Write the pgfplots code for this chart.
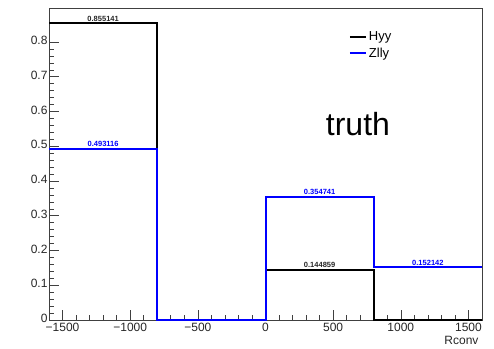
\documentclass[border=0pt]{standalone}
\usepackage{pgfplots}
\pgfplotsset{compat=1.18}
\usepackage{fontspec}
\setmainfont{Liberation Sans}
\definecolor{rootblue}{RGB}{0,0,255}
\begin{document}
\begin{tikzpicture}
\begin{axis}[
  scale only axis,
  width=433pt, height=312pt,
  xmin=-1600, xmax=1600,
  ymin=0, ymax=0.8979,
  axis line style={black!75, line width=0.6pt},
  tick align=inside,
  xtick pos=bottom, ytick pos=left,
  xtick={-1500,-1000,-500,0,500,1000,1500},
  xticklabels={−1500,−1000,−500,0,500,1000,1500},
  ytick={0,0.1,0.2,0.3,0.4,0.5,0.6,0.7,0.8},
  yticklabels={0,0.1,0.2,0.3,0.4,0.5,0.6,0.7,0.8},
  minor x tick num=4,
  minor y tick num=4,
  major tick length=10pt,
  minor tick length=5pt,
  tick style={black!75, line width=0.6pt},
  ticklabel style={font=\fontsize{12}{14}\selectfont, text=black!85},
  xticklabel style={yshift=0pt},
  yticklabel style={xshift=2pt, yshift=1.5pt},
  /pgf/number format/assume math mode=true,
  xlabel={Rconv},
  xlabel style={font=\fontsize{12}{14}\selectfont, text=black!85, anchor=north east, at={(rel axis cs:1,0)}, yshift=-13pt},
  legend style={draw=none, fill=none, at={(rel axis cs:0.69,0.935)}, anchor=north west,
    font=\fontsize{13}{15}\selectfont, row sep=2pt, inner sep=1pt,
    /tikz/every even column/.style={column sep=2pt}},
  legend cell align=left,
  legend image code/.code={\draw[#1, line width=2pt] (0pt,0pt) -- (16pt,0pt);},
  clip=false,
]
\addplot[draw=black, line width=2pt, const plot, mark=none] coordinates {
  (-1600,0.855141) (-800,0) (0,0.144859) (800,0) (1600,0)
};
\addlegendentry{Hyy}
\addplot[draw=rootblue, line width=2pt, const plot, mark=none] coordinates {
  (-1600,0.493116) (-800,0) (0,0.354741) (800,0.152142) (1600,0.152142)
};
\addlegendentry{Zlly}
\node[anchor=south, inner sep=1.5pt, font=\fontsize{7.5}{8}\selectfont\bfseries, text=black!85] at (axis cs:-1200,0.855141) {0.855141};
\node[anchor=south, inner sep=1.5pt, font=\fontsize{7.5}{8}\selectfont\bfseries, text=black!85] at (axis cs:400,0.144859) {0.144859};
\node[anchor=south, inner sep=1.5pt, font=\fontsize{7.5}{8}\selectfont\bfseries, text=rootblue] at (axis cs:-1200,0.493116) {0.493116};
\node[anchor=south, inner sep=1.5pt, font=\fontsize{7.5}{8}\selectfont\bfseries, text=rootblue] at (axis cs:400,0.354741) {0.354741};
\node[anchor=south, inner sep=1.5pt, font=\fontsize{7.5}{8}\selectfont\bfseries, text=rootblue] at (axis cs:1200,0.152142) {0.152142};
\node[font=\fontsize{32}{36}\selectfont] at (axis cs:683,0.5626) {truth};
\end{axis}
\path ([shift={(-49pt,-27pt)}]current axis.south west) rectangle ([shift={(12pt,8pt)}]current axis.north east);
\end{tikzpicture}
\end{document}
